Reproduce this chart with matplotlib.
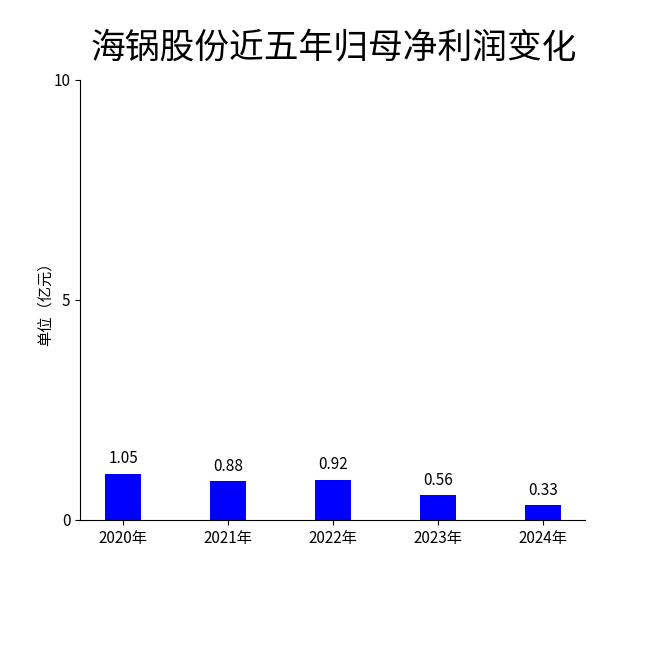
import matplotlib
matplotlib.use('Agg')
import matplotlib.pyplot as plt

plt.rcParams['font.family'] = ['Noto Sans CJK SC', 'DejaVu Sans']

years = ['2020年', '2021年', '2022年', '2023年', '2024年']
profit = [1.05, 0.88, 0.92, 0.56, 0.33]
yticks = [0, 5, 10]

fig = plt.figure(figsize=(6.5, 6.5), dpi=100)
ax = fig.add_axes([80 / 650, 130 / 650, 505 / 650, 440 / 650])

x = range(len(years))
ax.bar(x, profit, width=0.34, color='#0000FF')
for i, v in zip(x, profit):
    ax.text(i, v + 0.15, f'{v:.2f}', ha='center', va='bottom', fontsize=11)

ax.set_xticks(list(x))
ax.set_xticklabels(years, fontsize=11)
ax.set_yticks(yticks)
ax.set_yticklabels([str(t) for t in yticks], fontsize=11)
ax.set_xlim(-0.41, 4.4)
ax.set_ylim(0, 10)
ax.spines['top'].set_visible(False)
ax.spines['right'].set_visible(False)
ax.set_ylabel('单位（亿元）', fontsize=11, labelpad=0)

fig.text(0.513, 0.925, '海锅股份近五年归母净利润变化', ha='center', va='center', fontsize=25)

fig.savefig('out.png', dpi=100)
